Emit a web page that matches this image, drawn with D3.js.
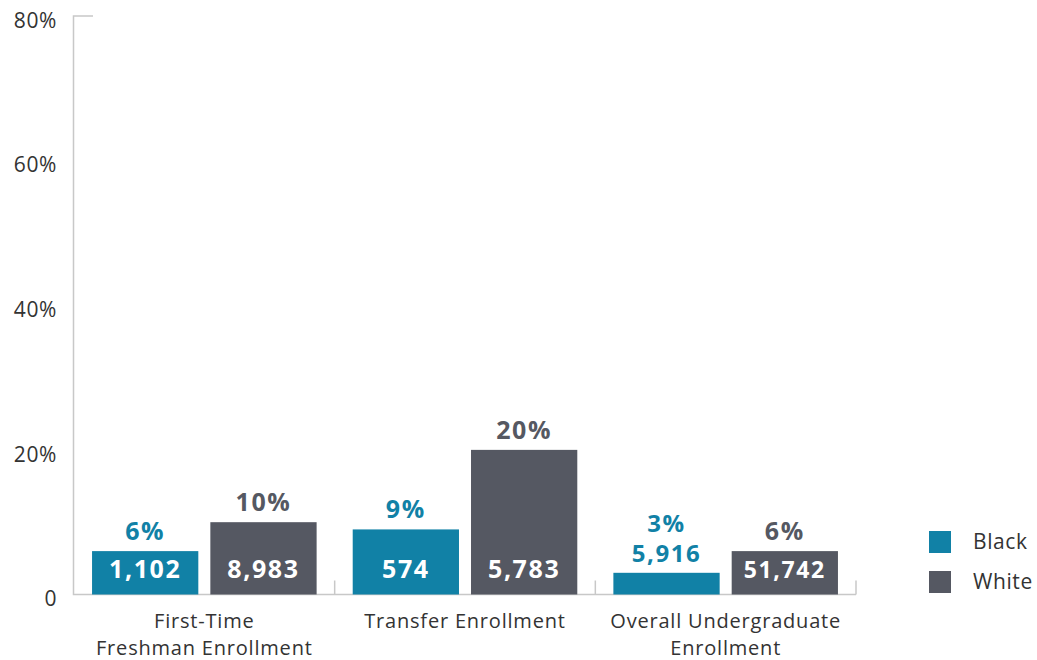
<!DOCTYPE html>
<html><head><meta charset="utf-8">
<script src="https://cdn.jsdelivr.net/npm/d3@7"></script>
<style>
body{margin:0;background:#fff;}
text{font-family:"Open Sans",sans-serif;}
</style></head>
<body><svg id="c" width="1037" height="660"></svg>
<script>
const categories = [["First-Time","Freshman Enrollment"],["Transfer Enrollment"],["Overall Undergraduate","Enrollment"]];
const categoryKeys = ["First-Time Freshman Enrollment","Transfer Enrollment","Overall Undergraduate Enrollment"];
const series = ["Black","White"];
const blackPct = [6,9,3];
const whitePct = [10,20,6];
const blackCount = ["1,102","574","5,916"];
const whiteCount = ["8,983","5,783","51,742"];
const yTicks = [0,20,40,60,80];
const yTickLabels = ["0","20%","40%","60%","80%"];
const colors = ["#1181a6","#555862"];

const svg = d3.select("#c");
const x0 = d3.scaleBand().domain(categoryKeys).range([74,856]).paddingInner(0).paddingOuter(0);
const x1 = d3.scaleBand().domain(series).range([0,x0.bandwidth()]).paddingInner(12/118).paddingOuter(18/118);
const y = d3.scaleLinear().domain([0,80]).range([594.5,16]);

const REG = {size:21, ls:0.6, fill:"#333"};
const BOLD = {size:25, ls:1.6};

// axes
const g = svg.append("g");
g.append("path").attr("d",`M93,${y(80)}H73.5V${y(0)}H856`).attr("fill","none").attr("stroke","#c8c8c8").attr("stroke-width",1.5);
categoryKeys.forEach((k,i)=>{
  const xx = x0(k)+x0.bandwidth();
  g.append("line").attr("x1",xx).attr("x2",xx).attr("y1",y(0)-14).attr("y2",y(0)).attr("stroke","#c8c8c8").attr("stroke-width",1.5);
});
yTicks.forEach((t,i)=>{
  svg.append("text").attr("x",57).attr("y",y(t)+6).attr("text-anchor","end").attr("dominant-baseline","middle")
    .attr("font-size",REG.size).attr("letter-spacing",REG.ls).attr("fill",REG.fill).text(yTickLabels[i]);
});
categories.forEach((lines,i)=>{
  const cx = x0(categoryKeys[i])+x0.bandwidth()/2;
  lines.forEach((l,j)=>{
    svg.append("text").attr("x",cx).attr("y",628+26.5*j).attr("text-anchor","middle")
      .attr("font-size",20).attr("letter-spacing",0.8).attr("fill",REG.fill).text(l);
  });
});

const data = [];
categoryKeys.forEach((k,i)=>{
  data.push({cat:k,s:"Black",pct:blackPct[i],cnt:blackCount[i],c:colors[0]});
  data.push({cat:k,s:"White",pct:whitePct[i],cnt:whiteCount[i],c:colors[1]});
});
function bold(x,yy,txt,fill,size){
  return svg.append("text").attr("x",x).attr("y",yy).attr("text-anchor","middle")
    .attr("font-size",size||BOLD.size).attr("letter-spacing",BOLD.ls).attr("font-weight","bold").attr("fill",fill).text(txt);
}
data.forEach(d=>{
  const bx = x0(d.cat)+x1(d.s), bw = x1.bandwidth();
  const top = y(d.pct), h = y(0)-top;
  svg.append("rect").attr("x",bx).attr("y",top).attr("width",bw).attr("height",h).attr("fill",d.c);
  const cx = bx+bw/2;
  if(h>35){
    bold(cx, y(0)-17, d.cnt, "#fff", d.cnt.length>5?23:BOLD.size);
    bold(cx, top-11, d.pct+"%", d.c);
  } else {
    bold(cx, top-11, d.cnt, d.c, 24);
    bold(cx, top-41, d.pct+"%", d.c, 24);
  }
});

// legend
series.forEach((s,i)=>{
  const ly = 531+40*i;
  svg.append("rect").attr("x",929).attr("y",ly).attr("width",22).attr("height",22).attr("fill",colors[i]);
  svg.append("text").attr("x",973).attr("y",ly+12).attr("dominant-baseline","middle")
    .attr("font-size",REG.size).attr("letter-spacing",REG.ls).attr("fill",REG.fill).text(s);
});
</script></body></html>
